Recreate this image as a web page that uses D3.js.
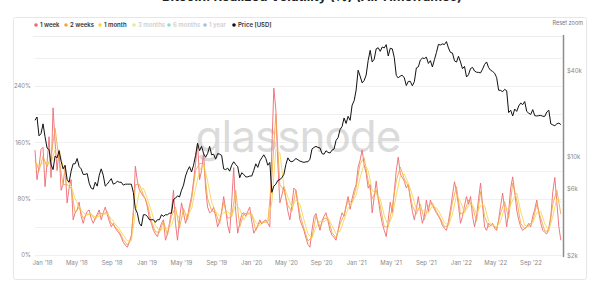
<!DOCTYPE html>
<html>
<head>
<meta charset="utf-8">
<script src="https://cdn.jsdelivr.net/npm/d3@7"></script>
<style>
  body { margin: 0; background: #fff; font-family: Inter, "Open Sans", sans-serif; }
  #chart { width: 600px; height: 286px; }
  .tick text { fill: #8a8a8a; font-size: 6px; font-family: Inter, sans-serif; }
</style>
</head>
<body>
<div id="chart"></div>
<script>
// week dates start here, one value per 7 days
var startDate = new Date(2017, 11, 8);

// BTC price [USD], weekly
var price = [
  18000, 19000, 14000, 14500, 17000, 13800, 11500, 11200, 8800, 8100, 10100, 9800,
  11000, 9300, 8200, 8700, 6900, 6600, 7900, 8900, 8900, 9700, 8500, 8200, 7500,
  7500, 7600, 6500, 6000, 5900, 6600, 6200, 7400, 8200, 7400, 6200, 6400, 6700,
  7000, 6400, 6500, 6700, 6600, 6600, 6300, 6400, 6400, 6400, 6400, 5600, 4300,
  4000, 3400, 3250, 3900, 3900, 3800, 3600, 3600, 3600, 3450, 3600, 3600, 3900,
  3800, 3900, 3900, 4000, 4000, 5000, 5100, 5300, 5200, 5800, 6300, 7300, 8000,
  8500, 7800, 8700, 10200, 12400, 11000, 11800, 10500, 9900, 10500, 11800, 10300, 10400,
  9600, 10500, 10400, 10200, 8200, 8100, 8300, 7900, 8700, 9200, 8800, 8500, 7100,
  7700, 7500, 7200, 7200, 7300, 7300, 8000, 8900, 8400, 9300, 9800, 10300, 9700,
  8700, 9100, 5600, 6200, 6400, 6800, 6900, 7100, 7500, 8800, 9800, 9300, 9200,
  9400, 9700, 9500, 9300, 9200, 9100, 9200, 9200, 9600, 11300, 11600, 11800, 11600,
  11500, 10500, 10400, 11000, 10700, 10600, 11100, 11300, 13000, 13600, 15500, 16300, 18700,
  17100, 19200, 18000, 23000, 24700, 29400, 40500, 36800, 33000, 34300, 37500, 47500, 55900,
  46300, 48400, 57300, 58300, 55000, 59000, 58100, 61300, 51000, 57800, 57300, 49700, 37300,
  35700, 36900, 37300, 35800, 31600, 33800, 33800, 31500, 33600, 42000, 42800, 47800, 49300,
  49000, 50000, 45200, 47300, 42700, 48000, 53900, 61500, 61000, 62000, 61400, 64400, 58100,
  54000, 53500, 47200, 46200, 50800, 46300, 41500, 43100, 36300, 37700, 41600, 42400, 40000,
  39200, 39100, 38800, 41200, 44500, 46300, 42300, 40500, 39700, 38600, 36000, 29300, 29200,
  28600, 29700, 29100, 20400, 21200, 19300, 21600, 20800, 22700, 23800, 23200, 24400, 20800,
  20200, 19800, 21400, 19400, 19300, 19400, 19500, 19200, 19200, 20600, 21200, 17000, 16700,
  16500, 17000, 17200, 16800
];

// 1 week realized volatility (%), weekly
var vol1w = [
  149, 107, 125, 150, 153, 97, 130, 168, 110, 209, 160, 120, 149, 92, 100, 125, 74, 95, 107, 50,
  60, 64, 75, 55, 45, 55, 62, 64, 52, 45, 52, 58, 64, 50, 60, 68, 58, 48, 40, 45,
  38, 34, 31, 25, 18, 14, 11, 18, 28, 60, 126, 105, 92, 88, 83, 80, 68, 52, 45, 35,
  30, 26, 36, 45, 50, 21, 30, 45, 62, 92, 45, 21, 50, 74, 60, 45, 55, 70, 83, 105,
  130, 159, 107, 120, 145, 95, 68, 60, 62, 68, 55, 40, 48, 62, 83, 65, 42, 31, 75, 124,
  62, 31, 45, 58, 60, 55, 62, 68, 48, 31, 36, 42, 50, 44, 48, 50, 45, 40, 150, 237,
  206, 130, 74, 85, 97, 80, 62, 50, 72, 95, 92, 70, 50, 42, 35, 24, 15, 11, 35, 54,
  59, 45, 35, 48, 55, 60, 48, 35, 28, 25, 21, 35, 50, 60, 55, 70, 83, 65, 80, 92,
  100, 125, 135, 149, 128, 116, 95, 100, 60, 82, 105, 80, 60, 45, 35, 26, 50, 75, 60, 90,
  120, 139, 115, 110, 105, 95, 100, 80, 62, 50, 65, 83, 62, 45, 55, 78, 62, 78, 70, 65,
  60, 55, 50, 42, 38, 35, 48, 65, 85, 104, 90, 70, 45, 55, 70, 83, 72, 83, 55, 40,
  55, 80, 102, 70, 40, 35, 45, 42, 45, 38, 35, 50, 70, 88, 65, 40, 62, 95, 111, 90,
  64, 50, 40, 35, 38, 40, 45, 40, 55, 65, 78, 60, 45, 35, 32, 30, 38, 55, 90, 110,
  75, 40, 21
];

// 2 weeks realized volatility (%), every 2 weeks
var vol2w = [
  135, 120, 140, 125, 140, 180, 135, 100, 100, 95, 60, 68, 52, 58, 58, 50, 60, 58, 62, 45,
  40, 33, 22, 14, 24, 100, 100, 86, 72, 48, 33, 32, 48, 28, 55, 68, 38, 66, 50, 78,
  120, 130, 130, 80, 63, 60, 45, 75, 52, 55, 92, 40, 58, 60, 58, 35, 46, 47, 47, 110,
  200, 100, 92, 70, 62, 92, 58, 38, 20, 25, 56, 40, 52, 52, 32, 24, 44, 57, 78, 74,
  96, 130, 138, 105, 80, 92, 70, 40, 40, 68, 105, 125, 108, 98, 70, 58, 72, 50, 70, 74,
  62, 52, 40, 42, 75, 97, 58, 62, 78, 68, 48, 90, 55, 40, 43, 37, 60, 76, 52, 102,
  78, 45, 37, 42, 48, 72, 52, 34, 34, 72, 92, 58
];

// 1 month realized volatility (%), every 2 weeks
var vol1m = [
  130, 128, 130, 132, 130, 150, 150, 125, 105, 98, 80, 68, 60, 57, 58, 54, 55, 58, 58, 52,
  44, 37, 28, 20, 20, 60, 90, 95, 80, 62, 42, 34, 38, 38, 42, 60, 52, 55, 58, 65,
  95, 120, 130, 105, 75, 62, 55, 60, 62, 55, 72, 65, 50, 58, 58, 46, 42, 46, 47, 75,
  150, 145, 98, 82, 68, 78, 72, 50, 30, 24, 40, 48, 47, 52, 42, 30, 34, 50, 66, 75,
  85, 110, 130, 120, 92, 86, 80, 56, 42, 55, 85, 112, 115, 102, 85, 65, 66, 62, 60, 70,
  67, 58, 46, 42, 58, 85, 76, 60, 70, 72, 58, 70, 70, 48, 42, 40, 48, 68, 64, 78,
  88, 62, 42, 40, 46, 60, 62, 44, 35, 55, 80, 75
];

var legendNames = ["1 week", "2 weeks", "1 month", "3 months", "6 months", "1 year", "Price [USD]"];
var legendColors = ["#ec6a74", "#f5a443", "#f7d44c", "#e3ec9a", "#8ee0c4", "#a6bde6", "#111111"];
var legendActive = [true, true, true, false, false, false, true];

var volTicks = [0, 80, 160, 240];
var volGrid = [0, 40, 80, 120, 160, 200, 240, 280];
var priceTicks = [2000, 6000, 10000, 40000];
var dateTicks = [
  new Date(2018, 0, 1), new Date(2018, 4, 1), new Date(2018, 8, 1),
  new Date(2019, 0, 1), new Date(2019, 4, 1), new Date(2019, 8, 1),
  new Date(2020, 0, 1), new Date(2020, 4, 1), new Date(2020, 8, 1),
  new Date(2021, 0, 1), new Date(2021, 4, 1), new Date(2021, 8, 1),
  new Date(2022, 0, 1), new Date(2022, 4, 1), new Date(2022, 8, 1)
];

var width = 600;
var height = 286;
var plotLeft = 35;
var plotRight = 562;
var plotTop = 36;
var plotBottom = 255;

var svg = d3.select("#chart")
    .append("svg")
    .attr("width", width)
    .attr("height", height);

// title, mostly above the top edge like the screenshot
svg.append("text")
    .attr("x", 312)
    .attr("y", 1)
    .attr("text-anchor", "middle")
    .attr("font-size", 13)
    .attr("font-weight", 700)
    .attr("fill", "#222")
    .text("Bitcoin: Realized Volatility (%) (All Timeframes)");

// card
svg.append("rect")
    .attr("x", 13.5)
    .attr("y", 17.5)
    .attr("width", 573)
    .attr("height", 262)
    .attr("rx", 2)
    .attr("fill", "#fff")
    .attr("stroke", "#e6e6e6");

var xScale = d3.scaleTime()
    .domain([new Date(2017, 11, 8), new Date(2022, 11, 20)])
    .range([plotLeft, plotRight]);

var yScale = d3.scaleLinear()
    .domain([0, 240])
    .range([plotBottom, 86]);

var priceScale = d3.scaleLog()
    .domain([2000, 40000])
    .range([256, 71]);

// grid
svg.append("g")
    .selectAll("line")
    .data(volGrid)
    .enter()
    .append("line")
    .attr("x1", plotLeft)
    .attr("x2", plotRight)
    .attr("y1", function(d) { return Math.round(yScale(d)) + 0.5; })
    .attr("y2", function(d) { return Math.round(yScale(d)) + 0.5; })
    .attr("stroke", "#f0f0f0");

svg.append("line")
    .attr("x1", plotLeft - 2)
    .attr("x2", plotRight)
    .attr("y1", plotTop + 0.5)
    .attr("y2", plotTop + 0.5)
    .attr("stroke", "#ececec");

// watermark
svg.append("text")
    .attr("x", 298)
    .attr("y", 152)
    .attr("text-anchor", "middle")
    .attr("font-size", 44)
    .attr("font-family", "Inter, sans-serif")
    .attr("fill", "#cccccc")
    .attr("fill-opacity", 0.7)
    .attr("letter-spacing", -1)
    .text("glassnode");

// axes
var yAxis = d3.axisLeft(yScale)
    .tickValues(volTicks)
    .tickFormat(function(d) { return d + "%"; })
    .tickSize(0)
    .tickPadding(0);

svg.append("g")
    .attr("class", "yAxis")
    .attr("transform", "translate(31,0)")
    .call(yAxis)
    .call(function(g) { g.select(".domain").remove(); });

var priceAxis = d3.axisRight(priceScale)
    .tickValues(priceTicks)
    .tickFormat(function(d) { return "$" + d / 1000 + "k"; })
    .tickSize(0)
    .tickPadding(4);

svg.append("g")
    .attr("class", "priceAxis")
    .attr("transform", "translate(563,0)")
    .call(priceAxis)
    .call(function(g) { g.select(".domain").remove(); });

svg.append("line")
    .attr("x1", 563.5)
    .attr("x2", 563.5)
    .attr("y1", 35)
    .attr("y2", 257)
    .attr("stroke", "#8c8c8c")
    .attr("stroke-width", 1.5);

var xAxis = d3.axisBottom(xScale)
    .tickValues(dateTicks)
    .tickFormat(d3.timeFormat("%b '%y"))
    .tickSize(0)
    .tickPadding(6);

svg.append("g")
    .attr("class", "xAxis")
    .attr("transform", "translate(0," + plotBottom + ")")
    .call(xAxis)
    .call(function(g) { g.select(".domain").remove(); });

// series
var weekDates = price.map(function(d, i) { return d3.timeDay.offset(startDate, 7 * i); });
var biDates = vol2w.map(function(d, i) { return d3.timeDay.offset(startDate, 14 * i); });

var volLine = d3.line()
    .x(function(d) { return xScale(d[0]); })
    .y(function(d) { return yScale(d[1]); });

var priceLine = d3.line()
    .x(function(d) { return xScale(d[0]); })
    .y(function(d) { return priceScale(d[1]); });

var plot = svg.append("g");

plot.append("path")
    .datum(vol1w.map(function(v, i) { return [weekDates[i], v]; }))
    .attr("d", volLine)
    .attr("fill", "none")
    .attr("stroke", legendColors[0])
    .attr("stroke-width", 1)
    .attr("stroke-opacity", 0.9);

plot.append("path")
    .datum(vol2w.map(function(v, i) { return [biDates[i], v]; }))
    .attr("d", volLine)
    .attr("fill", "none")
    .attr("stroke", legendColors[1])
    .attr("stroke-width", 1)
    .attr("stroke-opacity", 0.85);

plot.append("path")
    .datum(vol1m.map(function(v, i) { return [biDates[i], v]; }))
    .attr("d", volLine)
    .attr("fill", "none")
    .attr("stroke", legendColors[2])
    .attr("stroke-width", 1)
    .attr("stroke-opacity", 0.85);

plot.append("path")
    .datum(price.map(function(v, i) { return [weekDates[i], v]; }))
    .attr("d", priceLine)
    .attr("fill", "none")
    .attr("stroke", "#111")
    .attr("stroke-width", 1);

// legend
var legendX = [36, 66, 100, 134, 169, 205, 234];
var legend = svg.append("g").attr("class", "legend");

legendNames.forEach(function(name, i) {
    legend.append("circle")
        .attr("cx", legendX[i])
        .attr("cy", 25)
        .attr("r", 1.8)
        .attr("fill", legendColors[i]);
    legend.append("text")
        .attr("x", legendX[i] + 4)
        .attr("y", 27)
        .attr("font-size", 6)
        .attr("font-weight", 600)
        .attr("fill", legendActive[i] ? "#333" : "#cfcfcf")
        .text(name);
});

// reset zoom button
svg.append("text")
    .attr("x", 583)
    .attr("y", 25)
    .attr("text-anchor", "end")
    .attr("font-size", 5.5)
    .attr("fill", "#777")
    .text("Reset zoom");
</script>
</body>
</html>
